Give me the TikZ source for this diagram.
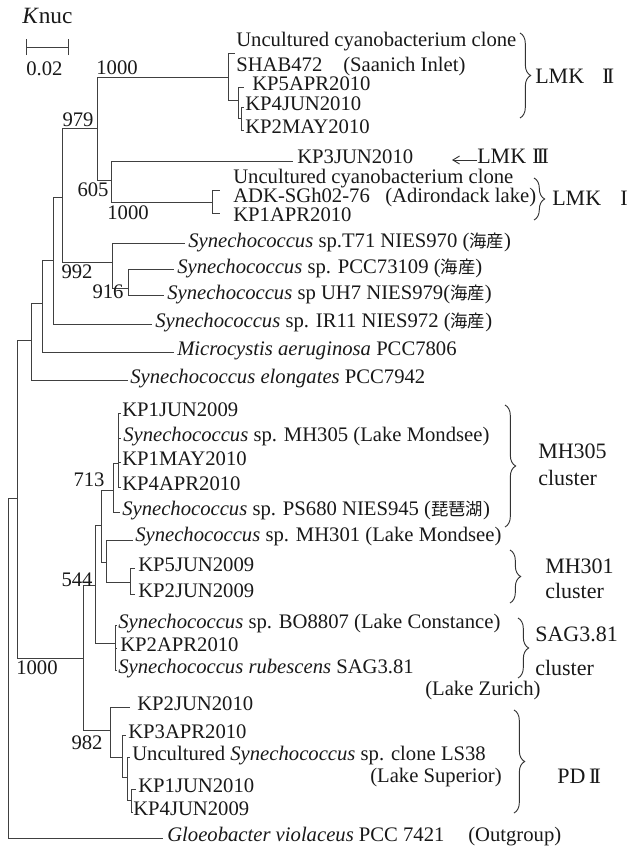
\documentclass[tikz,border=0pt]{standalone}
\usepackage{fontspec}
\setmainfont{Liberation Serif}
\newfontfamily\cjk{Noto Sans CJK JP}
\usetikzlibrary{decorations.pathreplacing,arrows.meta}
\newcommand\lfont{\fontsize{15.5}{17}\selectfont}
\newcommand\rfont{\fontsize{16.5}{18}\selectfont}
\newcommand\jp[1]{{\cjk\fontsize{13}{14}\selectfont #1}}
\newcommand\RII{I\kern-0.12em I}
\newcommand\RIII{I\kern-0.12em I\kern-0.12em I}
\begin{document}
\begin{tikzpicture}[x=0.75pt,y=-0.75pt,
  br/.style={line width=0.7pt, draw=black!75},
  lf/.style={anchor=west, inner sep=0pt, text height=0.66em, text depth=0.14em, font=\lfont, text=black!90},
  rl/.style={anchor=west, inner sep=0pt, text height=0.7em, text depth=0.2em, font=\rfont, text=black!90},
  bs/.style={inner sep=0pt, font=\lfont, text=black!90},
  brc/.style={line width=0.7pt, draw=black!80, decorate, decoration={brace, amplitude=8pt}}]
\useasboundingbox (0,0) rectangle (628,853);
\fill[white] (0,0) rectangle (628,853);

% scale bar
\node[rl, font=\fontsize{17.5}{19}\selectfont] (knuc) at (22,20) {\textit{K}nuc};
\coordinate (sbA) at (26,47);
\coordinate (sbB) at (68,47);
\draw[br] (sbA) -- (sbB);
\draw[br] ([yshift=-6pt]sbA) -- ([yshift=6pt]sbA);
\draw[br] ([yshift=-6pt]sbB) -- ([yshift=6pt]sbB);
\node[lf] (sbl) at (26,72) {0.02};

% internal nodes
\coordinate (root) at (8,667);
\coordinate (in) at (17,498);
\coordinate (upA) at (31,340);
\coordinate (b40) at (42,303);
\coordinate (b53) at (53,260);
\coordinate (b62) at (62,197);
\coordinate (b97) at (97,128);
\coordinate (lmk2) at (228,77);
\coordinate (b238) at (238,100);
\coordinate (c241) at (241,118);
\coordinate (b111) at (111,180);
\coordinate (adk) at (212,202);
\coordinate (b112) at (112,262);
\coordinate (b128) at (128,288);
\coordinate (lowA) at (83,658);
\coordinate (p95) at (95,585);
\coordinate (q101) at (101,525);
\coordinate (r113) at (113,490);
\coordinate (u118) at (118,463);
\coordinate (s106) at (106,562);
\coordinate (t130) at (130,582);
\coordinate (sag) at (115,643);
\coordinate (v110) at (110,730);
\coordinate (w122) at (122,757);
\coordinate (x127) at (127,777);
\coordinate (y131) at (131,800);

% branch tips
\coordinate (eShab) at (235,53);
\coordinate (eKp5apr) at (244,87);
\coordinate (eKp4jun) at (244,107);
\coordinate (eKp2may) at (244,130);
\coordinate (eKp3jun) at (293,161);
\coordinate (eAdk1) at (220,190);
\coordinate (eAdk2) at (220,213);
\coordinate (eT71) at (185,243);
\coordinate (ePcc) at (174,269);
\coordinate (eUh7) at (164,295);
\coordinate (eIr11) at (152,324);
\coordinate (eMic) at (174,352);
\coordinate (eEl) at (128,380);
\coordinate (eL1) at (121,413);
\coordinate (eL2) at (121,438);
\coordinate (eL3) at (121,462);
\coordinate (eL4) at (121,487);
\coordinate (ePs) at (120,512);
\coordinate (eMh301) at (133,540);
\coordinate (eKp5jun) at (135,568);
\coordinate (eKp2jun) at (135,594);
\coordinate (eBo) at (117,625);
\coordinate (eKp2apr) at (117,648);
\coordinate (eRub) at (117,670);
\coordinate (eKp2jun10) at (130,707);
\coordinate (eKp3apr) at (126,735);
\coordinate (eLs) at (130,757);
\coordinate (eKp1jun10) at (136,789);
\coordinate (eKp4jun09) at (133,812);
\coordinate (eGl) at (163,838);

% branches
\draw[br] (root) |- (in) (root) |- (eGl)
  (in) |- (upA) (in) |- (lowA)
  (upA) |- (b40) (upA) |- (eEl)
  (b40) |- (b53) (b40) |- (eMic)
  (b53) |- (b62) (b53) |- (eIr11)
  (b62) |- (b97) (b62) |- (b112)
  (b97) |- (lmk2) (b97) |- (b111)
  (lmk2) |- (eShab) (lmk2) |- (b238)
  (b238) |- (eKp5apr) (b238) |- (c241)
  (c241) |- (eKp4jun) (c241) |- (eKp2may)
  (b111) |- (eKp3jun) (b111) |- (adk)
  (adk) |- (eAdk1) (adk) |- (eAdk2)
  (b112) |- (eT71) (b112) |- (b128)
  (b128) |- (ePcc) (b128) |- (eUh7)
  (lowA) |- (p95) (lowA) |- (v110)
  (p95) |- (q101) (p95) |- (sag)
  (q101) |- (r113) (q101) |- (s106)
  (r113) |- (u118) (r113) |- (ePs)
  (u118) |- (eL1) (u118) |- (eL2) (u118) |- (eL3) (u118) |- (eL4)
  (s106) |- (eMh301) (s106) |- (t130)
  (t130) |- (eKp5jun) (t130) |- (eKp2jun)
  (sag) |- (eBo) (sag) |- (eKp2apr) (sag) |- (eRub)
  (v110) |- (eKp2jun10) (v110) |- (w122)
  (w122) |- (eKp3apr) (w122) |- (x127)
  (x127) |- (eLs) (x127) |- (y131)
  (y131) |- (eKp1jun10) (y131) |- (eKp4jun09);

% leaf labels
\node[lf] (n1) at (236,43) {Uncultured cyanobacterium clone};
\node[lf] (n2) at (236,68) {SHAB472};
\node[lf] (n2b) at (343,68) {(Saanich Inlet)};
\node[lf] (n3) at (252,87) {KP5APR2010};
\node[lf] (n4) at (245,107) {KP4JUN2010};
\node[lf] (n5) at (245,130) {KP2MAY2010};
\node[lf] (n6) at (297,160) {KP3JUN2010};
\node[lf] (n7) at (233,180) {Uncultured cyanobacterium clone};
\node[lf] (n8) at (233,199) {ADK-SGh02-76};
\node[lf] (n8b) at (385,199) {(Adirondack lake)};
\node[lf] (n9) at (233,218) {KP1APR2010};
\node[lf] (n10) at (188,244) {\textit{Synechococcus} sp.T71 NIES970 (\jp{海産})};
\node[lf] (n11) at (177,270) {\textit{Synechococcus} sp. PCC73109 (\jp{海産})};
\node[lf] (n12) at (167,296) {\textit{Synechococcus} sp UH7 NIES979(\jp{海産})};
\node[lf] (n13) at (155,324) {\textit{Synechococcus} sp. IR11 NIES972 (\jp{海産})};
\node[lf] (n14) at (177,352) {\textit{Microcystis aeruginosa} PCC7806};
\node[lf] (n15) at (130,380) {\textit{Synechococcus elongates} PCC7942};
\node[lf] (n16) at (122,413) {KP1JUN2009};
\node[lf] (n17) at (123,438) {\textit{Synechococcus} sp. MH305 (Lake Mondsee)};
\node[lf] (n18) at (122,462) {KP1MAY2010};
\node[lf] (n19) at (122,487) {KP4APR2010};
\node[lf] (n20) at (122,512) {\textit{Synechococcus} sp. PS680 NIES945 (\jp{琵琶湖})};
\node[lf] (n21) at (135,538) {\textit{Synechococcus} sp. MH301 (Lake Mondsee)};
\node[lf] (n22) at (138,568) {KP5JUN2009};
\node[lf] (n23) at (138,594) {KP2JUN2009};
\node[lf] (n24) at (118,625) {\textit{Synechococcus} sp. BO8807 (Lake Constance)};
\node[lf] (n25) at (120,648) {KP2APR2010};
\node[lf] (n26) at (118,670) {\textit{Synechococcus rubescens} SAG3.81};
\node[lf] (n27) at (425,692) {(Lake Zurich)};
\node[lf] (n28) at (137,707) {KP2JUN2010};
\node[lf] (n29) at (128,735) {KP3APR2010};
\node[lf] (n30) at (132,757) {Uncultured \textit{Synechococcus} sp. clone LS38};
\node[lf] (n31) at (370,779) {(Lake Superior)};
\node[lf] (n32) at (138,789) {KP1JUN2010};
\node[lf] (n33) at (133,812) {KP4JUN2009};
\node[lf] (n34) at (167,838) {\textit{Gloeobacter violaceus} PCC 7421};
\node[lf] (n34b) at (468,838) {(Outgroup)};

% bootstrap values
\node[bs] (bs1) at (117,68) {1000};
\node[bs] (bs2) at (78,120) {979};
\node[bs] (bs3) at (93,190) {605};
\node[bs] (bs4) at (128,213) {1000};
\node[bs] (bs5) at (77,272) {992};
\node[bs] (bs6) at (108,292) {916};
\node[bs] (bs7) at (89,480) {713};
\node[bs] (bs8) at (77,580) {544};
\node[bs] (bs9) at (37,668) {1000};
\node[bs] (bs10) at (87,743) {982};

% braces
\coordinate (brA1) at (520,33);  \coordinate (brA2) at (520,118);
\coordinate (brB1) at (534,178); \coordinate (brB2) at (534,220);
\coordinate (brC1) at (505,405); \coordinate (brC2) at (505,527);
\coordinate (brD1) at (510,550); \coordinate (brD2) at (510,603);
\coordinate (brE1) at (518,618); \coordinate (brE2) at (518,678);
\coordinate (brF1) at (514,710); \coordinate (brF2) at (514,813);
\draw[brc] (brA1) -- (brA2);
\draw[brc] (brB1) -- (brB2);
\draw[brc] (brC1) -- (brC2);
\draw[brc] (brD1) -- (brD2);
\draw[brc] (brE1) -- (brE2);
\draw[brc] (brF1) -- (brF2);

% group labels
\node[rl] (g1) at (535,80) {LMK};
\node[rl] (g1n) at (602,80) {\RII};
\node[rl] (g3) at (477,160) {LMK};
\node[rl] (g3n) at (532,160) {\RIII};
\coordinate (g3arr) at (452,160);
\draw[line width=0.7pt, draw=black!80, -{Straight Barb[length=5pt,width=6pt]}] (g3.west) -- (g3arr);
\node[rl] (g2) at (552,202) {LMK};
\node[rl] (g2n) at (620,202) {I};
\node[rl] (g4) at (538,455) {MH305};
\node[rl] (g4b) at (538,482) {cluster};
\node[rl] (g5) at (545,570) {MH301};
\node[rl] (g5b) at (545,595) {cluster};
\node[rl] (g6) at (535,638) {SAG3.81};
\node[rl] (g6b) at (535,672) {cluster};
\node[rl] (g7) at (557,780) {PD\,\RII};
\end{tikzpicture}
\end{document}
